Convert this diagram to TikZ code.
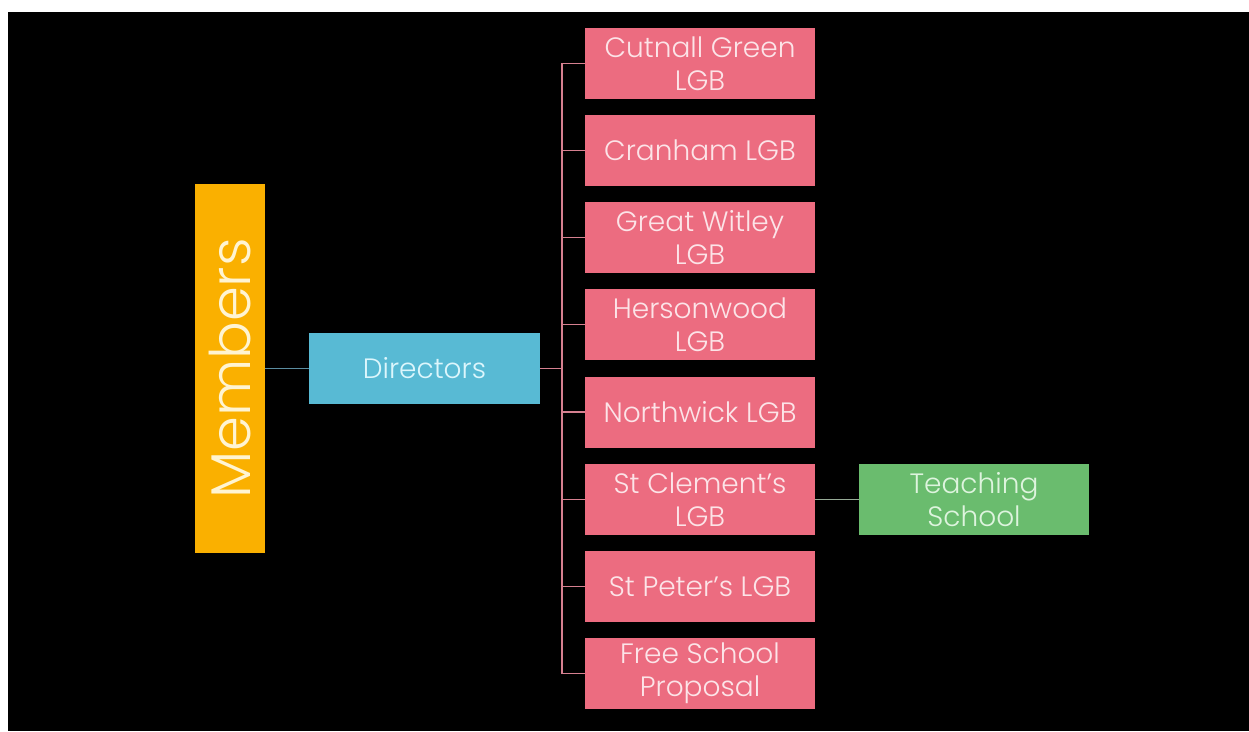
\documentclass[tikz,border=0pt]{standalone}
\usepackage{fontspec}
\setmainfont{Poppins}[UprightFont=* Light]
\definecolor{orangebox}{RGB}{250,176,0}
\definecolor{bluebox}{RGB}{88,186,212}
\definecolor{pinkbox}{RGB}{236,108,128}
\definecolor{greenbox}{RGB}{106,188,110}
\definecolor{pinktext}{RGB}{252,228,232}
\definecolor{bluetext}{RGB}{220,246,252}
\definecolor{orangetext}{RGB}{255,244,210}
\definecolor{greentext}{RGB}{222,244,222}
\definecolor{pinkline}{RGB}{214,128,144}
\definecolor{blueline}{RGB}{90,140,160}
\definecolor{greenline}{RGB}{150,170,150}
\tikzset{
  box/.style={minimum width=230pt, minimum height=71pt, inner sep=0pt, align=center,
    font=\fontsize{28}{33}\selectfont},
  lgb/.style={box, fill=pinkbox, text=pinktext},
  conn/.style={line width=1.5pt},
}
\begin{document}
\begin{tikzpicture}[x=1pt,y=-1pt]
\fill[white] (0,0) rectangle (1249,731);
\fill[black] (8,12) rectangle (1249,731);
\useasboundingbox (0,0) rectangle (1249,731);
% Members
\node[fill=orangebox, minimum width=70pt, minimum height=369pt, inner sep=0pt] (members) at (230,368.5) {};
\node[rotate=90, text=orangetext, font=\fontsize{56}{60}\selectfont] at (members.center) {Members};
% Directors
\node[box, fill=bluebox, text=bluetext, minimum width=231pt] (directors) at (424.5,368.5) {Directors};
% LGB column
\node[lgb] (c1) at (700,63.5) {Cutnall Green\\LGB};
\node[lgb] (c2) at (700,150.5) {Cranham LGB};
\node[lgb] (c3) at (700,237.5) {Great Witley\\LGB};
\node[lgb] (c4) at (700,324.5) {Hersonwood\\LGB};
\node[lgb] (c5) at (700,412) {Northwick LGB};
\node[lgb] (c6) at (700,499.5) {St Clement’s\\LGB};
\node[lgb] (c7) at (700,586.5) {St Peter’s LGB};
\node[lgb] (c8) at (700,673.5) {Free School\\Proposal};
% Teaching school
\node[box, fill=greenbox, text=greentext] (teach) at (974,499.5) {Teaching\\School};
% connectors
\coordinate (bus) at (562,368.5);
\draw[conn, blueline] (members.east) -- (directors.west);
\draw[conn, pinkline] (directors.east) -- (bus);
\foreach \i in {1,...,8} {
  \draw[conn, pinkline] (bus) |- (c\i.west);
}
\draw[conn, greenline] (c6.east) -- (teach.west);
\end{tikzpicture}
\end{document}
